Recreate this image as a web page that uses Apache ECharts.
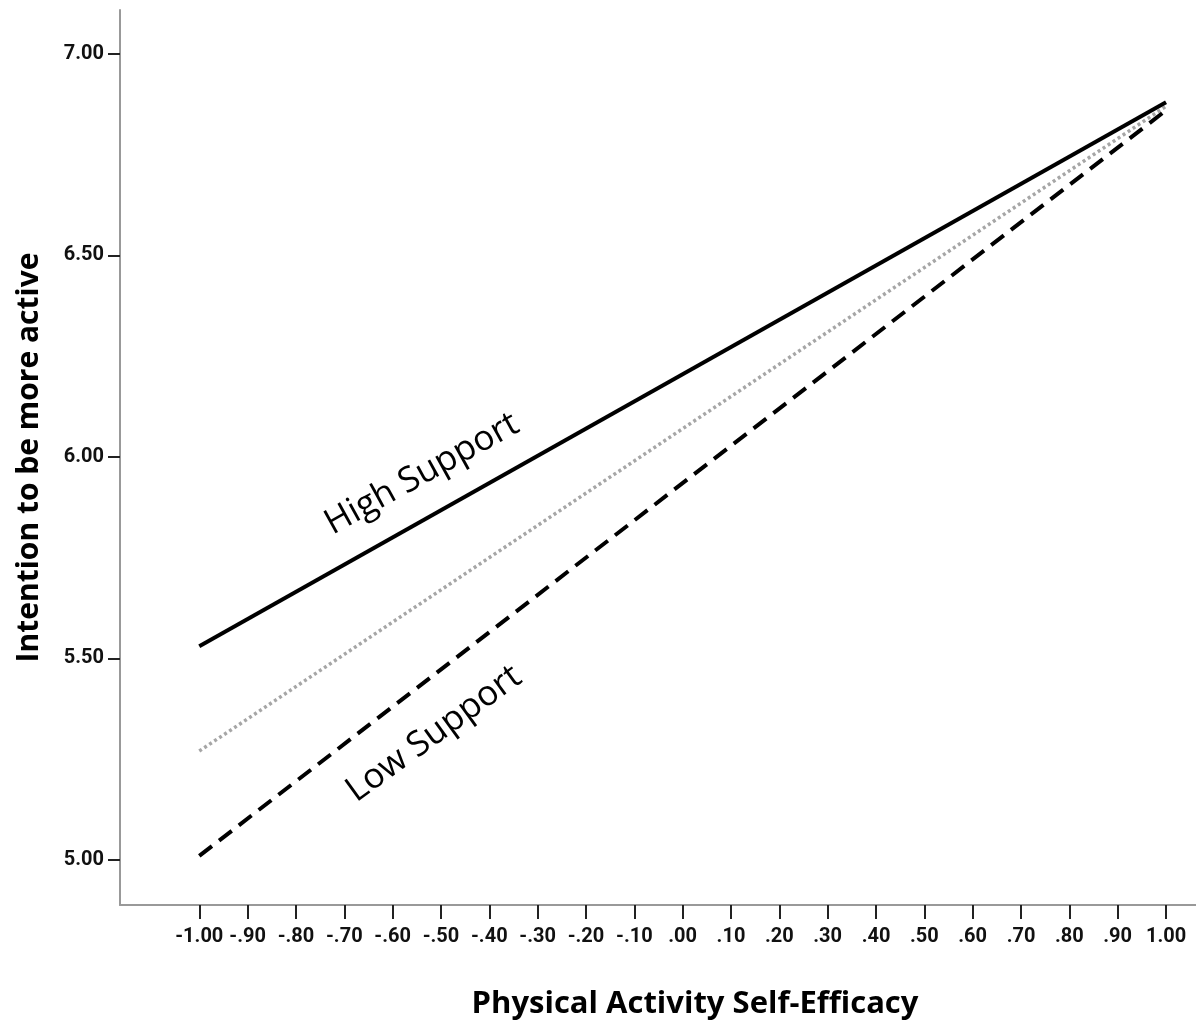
<!DOCTYPE html>
<html>
<head>
<meta charset="utf-8">
<script src="https://cdn.jsdelivr.net/npm/echarts@6/dist/echarts.min.js"></script>
<style>
  html, body { margin: 0; padding: 0; background: #fff; }
  #chart { width: 1196px; height: 1025px; }
</style>
</head>
<body>
<div id="chart"></div>
<script>
// values
const xTicks = [-1.0, -0.9, -0.8, -0.7, -0.6, -0.5, -0.4, -0.3, -0.2, -0.1, 0.0,
  0.1, 0.2, 0.3, 0.4, 0.5, 0.6, 0.7, 0.8, 0.9, 1.0]
const yTicks = [5.0, 5.5, 6.0, 6.5, 7.0]
const efficacy = [-1.0, 1.0]
const highSupport = [5.53, 6.88]
const meanSupport = [5.27, 6.87]
const lowSupport = [5.01, 6.86]

const tickFont = 'Roboto, "Liberation Sans", sans-serif'
const textFont = '"Open Sans", "Noto Sans", sans-serif'

function fmt(v) {
  const s = Math.abs(v).toFixed(2)
  const t = Math.abs(v) < 1 ? s.replace(/^0/, '') : s
  return (v < -1e-9 ? '-' : '') + t
}

function pairs(ys) {
  return efficacy.map((x, i) => [x, ys[i]])
}

const chart = echarts.init(document.getElementById('chart'))

const option = {
  backgroundColor: '#fff',
  animation: false,
  grid: { left: 120, right: 0, top: 10, bottom: 120, containLabel: false, outerBoundsMode: 'none' },
  xAxis: {
    type: 'value',
    min: -1.164,
    max: 1.062,
    name: 'Physical Activity Self-Efficacy',
    nameLocation: 'middle',
    nameGap: 84,
    nameTextStyle: {
      fontFamily: textFont, fontWeight: 'bold', fontSize: 31, color: '#000',
      padding: [0, 0, 0, 74]
    },
    axisLine: { show: true, onZero: false, lineStyle: { color: '#999', width: 2 } },
    axisTick: { show: true, customValues: xTicks, length: 14, lineStyle: { color: '#222', width: 2 } },
    axisLabel: {
      customValues: xTicks,
      formatter: fmt,
      margin: 22,
      hideOverlap: false,
      fontFamily: tickFont,
      fontWeight: 'bold',
      fontSize: 20,
      color: '#111'
    },
    splitLine: { show: false }
  },
  yAxis: {
    type: 'value',
    min: 4.888,
    max: 7.109,
    name: 'Intention to be more active',
    nameLocation: 'middle',
    nameGap: 76,
    nameRotate: 90,
    nameTextStyle: { fontFamily: textFont, fontWeight: 'bold', fontSize: 30, color: '#000' },
    axisLine: { show: true, onZero: false, lineStyle: { color: '#999', width: 2 } },
    axisTick: { show: true, customValues: yTicks, length: 12, lineStyle: { color: '#222', width: 2 } },
    axisLabel: {
      customValues: yTicks,
      formatter: v => v.toFixed(2),
      margin: 16,
      fontFamily: tickFont,
      fontWeight: 'bold',
      fontSize: 20,
      color: '#111'
    },
    splitLine: { show: false }
  },
  series: [
    {
      name: 'Mean Support',
      type: 'line',
      data: pairs(meanSupport),
      symbol: 'none',
      lineStyle: { color: '#a6a6a6', width: 3.5, type: [3, 3] }
    },
    {
      name: 'Low Support',
      type: 'line',
      data: pairs(lowSupport),
      symbol: 'none',
      lineStyle: { color: '#000', width: 4, type: [16, 9] }
    },
    {
      name: 'High Support',
      type: 'line',
      data: pairs(highSupport),
      symbol: 'none',
      lineStyle: { color: '#000', width: 4 }
    }
  ],
  graphic: [
    {
      type: 'text',
      x: 422, y: 474,
      rotation: 29 * Math.PI / 180,
      style: {
        text: 'High Support',
        fontFamily: textFont,
        fontSize: 35,
        fill: '#000',
        align: 'center',
        verticalAlign: 'middle'
      }
    },
    {
      type: 'text',
      x: 434, y: 734,
      rotation: 36 * Math.PI / 180,
      style: {
        text: 'Low Support',
        fontFamily: textFont,
        fontSize: 35,
        fill: '#000',
        align: 'center',
        verticalAlign: 'middle'
      }
    }
  ]
}

chart.setOption(option)
</script>
</body>
</html>
